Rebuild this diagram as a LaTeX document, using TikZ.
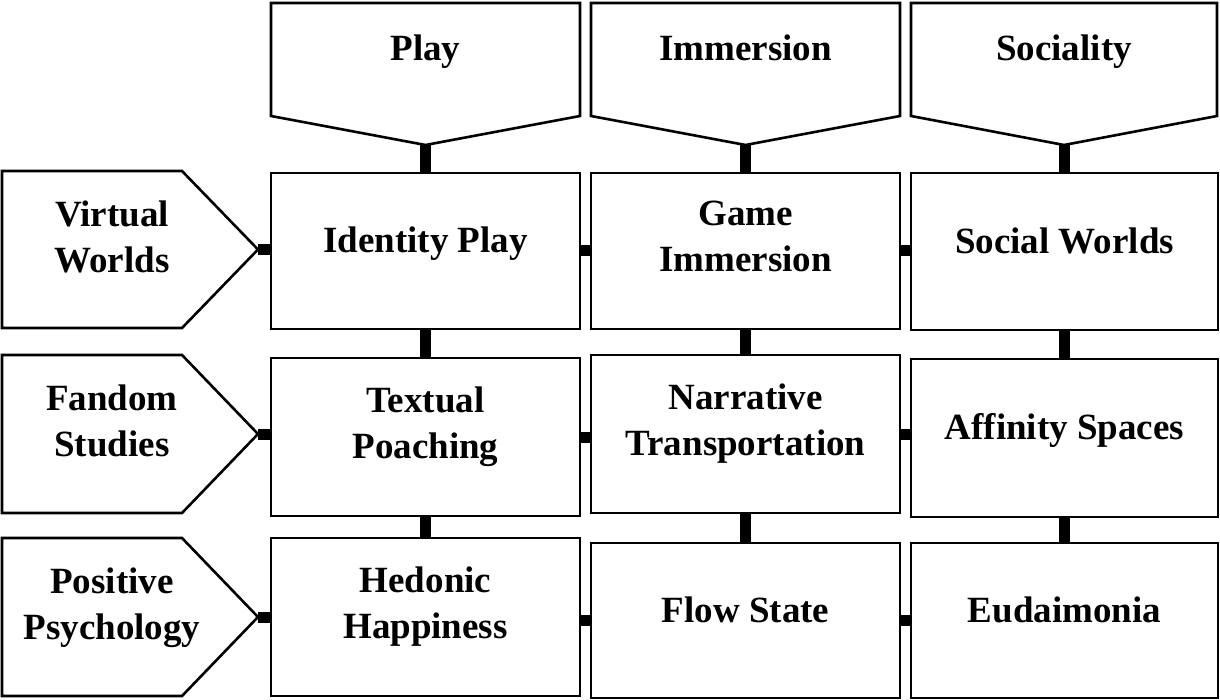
\documentclass[tikz,border=0pt]{standalone}
\usepackage{fontspec}
\setmainfont{Liberation Serif}
\begin{document}
\begin{tikzpicture}[x=1pt,y=-1pt,
  txt/.style={font=\fontsize{37}{46}\selectfont\bfseries, align=center, inner sep=0pt,
     execute at begin node=\strut, execute at end node={\rule[-28.5pt]{0pt}{0pt}}},
  box/.style={txt, draw, line width=2.6pt, fill=white, minimum width=309pt, minimum height=156pt},
  outline/.style={draw, line width=2.6pt, line join=miter, fill=white},
  link/.style={line width=11pt}]
\fill[white] (0,0) rectangle (1220,700);
\useasboundingbox (0,0) rectangle (1220,700);

% header shapes
\draw[outline] (271,3) -- (580,3) -- (580,116) -- (425.5,145) -- (271,116) -- cycle;
\draw[outline] (591,3) -- (900,3) -- (900,116) -- (745.5,145) -- (591,116) -- cycle;
\draw[outline] (911,3) -- (1217,3) -- (1217,116) -- (1064,145) -- (911,116) -- cycle;
\node[txt] (play) at (425.5,59) {Play};
\node[txt] (imm) at (745.5,59) {Immersion};
\node[txt] (soc) at (1064,59) {Sociality};
\coordinate (playtip) at (425.5,145);
\coordinate (immtip) at (745.5,145);
\coordinate (soctip) at (1064,145);

% left pentagons
\draw[outline] (2,171) -- (182,171) -- (258,249.5) -- (182,328) -- (2,328) -- cycle;
\draw[outline] (2,355) -- (182,355) -- (258,434) -- (182,513) -- (2,513) -- cycle;
\draw[outline] (2,538) -- (182,538) -- (258,617) -- (182,696) -- (2,696) -- cycle;
\node[txt] (vw) at (112,250.5) {Virtual\\Worlds};
\node[txt] (fd) at (112,435) {Fandom\\Studies};
\node[txt] (pp) at (112,618) {Positive\\Psychology};
\coordinate (vwtip) at (258,249.5);
\coordinate (fdtip) at (258,434);
\coordinate (pptip) at (258,617);

% boxes
\node[box] (idp) at (425.5,251) {Identity Play};
\node[box] (gim) at (745.5,251) {Game\\Immersion};
\node[box, minimum width=307pt, minimum height=157pt] (sw) at (1064.5,251.5) {Social Worlds};
\node[box, minimum height=158pt] (tp) at (425.5,437) {Textual\\Poaching};
\node[box, minimum height=158pt] (nt) at (745.5,434) {Narrative\\Transportation};
\node[box, minimum width=307pt, minimum height=158pt] (as) at (1064.5,438) {Affinity Spaces};
\node[box, minimum height=158pt] (hh) at (425.5,617) {Hedonic\\Happiness};
\node[box, minimum height=155pt] (fs) at (745.5,620.5) {Flow State};
\node[box, minimum width=307pt, minimum height=155pt] (eu) at (1064.5,620.5) {Eudaimonia};

% vertical connectors
\draw[link] (playtip) -- (idp.north);
\draw[link] (idp.south) -- (tp.north);
\draw[link] (tp.south) -- (hh.north);
\draw[link] (immtip) -- (gim.north);
\draw[link] (gim.south) -- (nt.north);
\draw[link] (nt.south) -- (fs.north);
\draw[link] (soctip) -- (soctip |- sw.north);
\draw[link] (sw.south) -- (as.north);
\draw[link] (as.south) -- (eu.north);

% horizontal connectors
\draw[link] (vwtip) -- (vwtip -| idp.west);
\draw[link] (idp.east) -- (idp.east -| gim.west);
\draw[link] (gim.east) -- (gim.east -| sw.west);
\draw[link] (fdtip) -- (fdtip -| tp.west);
\draw[link] (tp.east) -- (tp.east -| nt.west);
\draw[link] (nt.east) -- (nt.east -| as.west);
\draw[link] (pptip) -- (pptip -| hh.west);
\draw[link] (fs.west -| hh.east) -- (fs.west);
\draw[link] (fs.east) -- (fs.east -| eu.west);
\end{tikzpicture}
\end{document}
